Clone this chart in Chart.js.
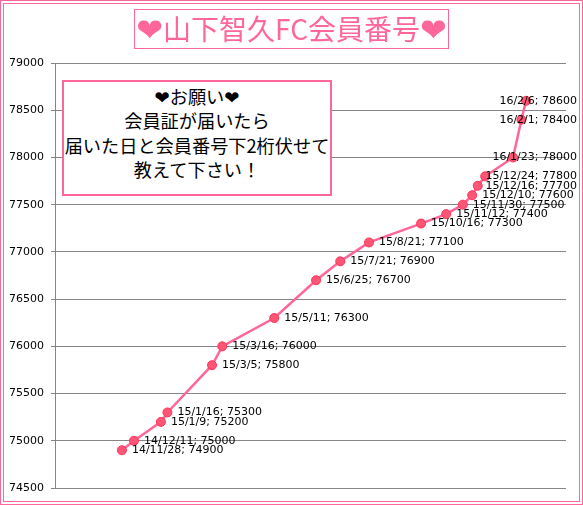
<!DOCTYPE html>
<html>
<head>
<meta charset="utf-8">
<script src="https://cdn.jsdelivr.net/npm/chart.js@4"></script>
<style>
  html, body { margin: 0; padding: 0; background: #fff; }
  #frame { position: absolute; left: 0; top: 0; width: 583px; height: 505px; box-sizing: border-box; border: 4px double #ff6699; }
  #wrap { position: absolute; left: 0; top: 0; width: 583px; height: 505px; }
  #title { position: absolute; left: 134px; top: 9px; width: 315px; height: 40px; box-sizing: border-box; border: 1px solid #ff6699; background: #fff; color: #ff6699; font: 28px/37px "Noto Sans CJK JP", sans-serif; text-align: center; white-space: nowrap; }
  #title .heart { font-size: 32px; vertical-align: -1px; }
  #note { position: absolute; left: 62px; top: 80px; width: 270px; height: 116px; box-sizing: border-box; border: 2px solid #ff6699; background: #fff; color: #000; font: 18.2px/24.3px "Noto Sans CJK JP", sans-serif; text-align: center; white-space: nowrap; padding-top: 2px; }
  .heart { font-family: "DejaVu Sans", sans-serif; line-height: 0; }
</style>
</head>
<body>
<div id="wrap"><canvas id="myChart" width="583" height="505"></canvas></div>
<div id="frame"></div>
<div id="title"><span class="heart">❤</span>山下智久FC会員番号<span class="heart">❤</span></div>
<div id="note"><span class="heart">❤</span>お願い<span class="heart">❤</span><br>会員証が届いたら<br>届いた日と会員番号下2桁伏せて<br>教えて下さい！</div>
<script>
const dates = ["14/11/28", "14/12/11", "15/1/9", "15/1/16", "15/3/5", "15/3/16", "15/5/11", "15/6/25", "15/7/21", "15/8/21",
  "15/10/16", "15/11/12", "15/11/30", "15/12/10", "15/12/16", "15/12/24", "16/1/23", "16/2/1", "16/2/6"];
const numbers = [74900, 75000, 75200, 75300, 75800, 76000, 76300, 76700, 76900, 77100,
  77300, 77400, 77500, 77600, 77700, 77800, 78000, 78400, 78600];

// the x axis is a date axis, counted in days
const toDay = (d) => {
  const p = d.split("/").map(Number);
  return Date.UTC(2000 + p[0], p[1] - 1, p[2]) / 86400000;
};
const points = dates.map((d, i) => ({ x: toDay(d), y: numbers[i] }));

// text next to each point, pushed back left when it would leave the picture
const pointLabels = {
  id: "pointLabels",
  afterDatasetsDraw(chart) {
    const ctx = chart.ctx;
    ctx.save();
    ctx.font = '11px "DejaVu Sans"';
    ctx.fillStyle = "#000";
    ctx.textBaseline = "middle";
    chart.getDatasetMeta(0).data.forEach((el, i) => {
      const text = dates[i] + "; " + numbers[i];
      const w = ctx.measureText(text).width;
      ctx.fillText(text, Math.min(el.x + 10, 577 - w), el.y);
    });
    ctx.restore();
  },
};

new Chart(document.getElementById("myChart"), {
  type: "line",
  data: {
    datasets: [{
      data: points,
      borderColor: "#ff6699",
      borderWidth: 2.5,
      tension: 0,
      pointRadius: 4.5,
      pointBackgroundColor: "#ff5577",
      pointBorderColor: "#ff3355",
      pointBorderWidth: 1,
    }],
  },
  options: {
    responsive: false,
    animation: false,
    layout: { padding: { top: 63, bottom: 17, right: 17, left: 0 } },
    plugins: { legend: { display: false }, tooltip: { enabled: false } },
    scales: {
      x: { type: "linear", display: false, min: toDay("14/11/28") - 72, max: toDay("14/11/28") + 478 },
      y: {
        min: 74500,
        max: 79000,
        afterFit: (scale) => { scale.width = 55; },
        border: { color: "#868686" },
        grid: { color: "#868686", tickLength: 4 },
        ticks: {
          stepSize: 500,
          padding: 7,
          color: "#000",
          font: { family: "DejaVu Sans", size: 11 },
          callback: (v) => String(v),
        },
      },
    },
  },
  plugins: [pointLabels],
});
</script>
</body>
</html>
